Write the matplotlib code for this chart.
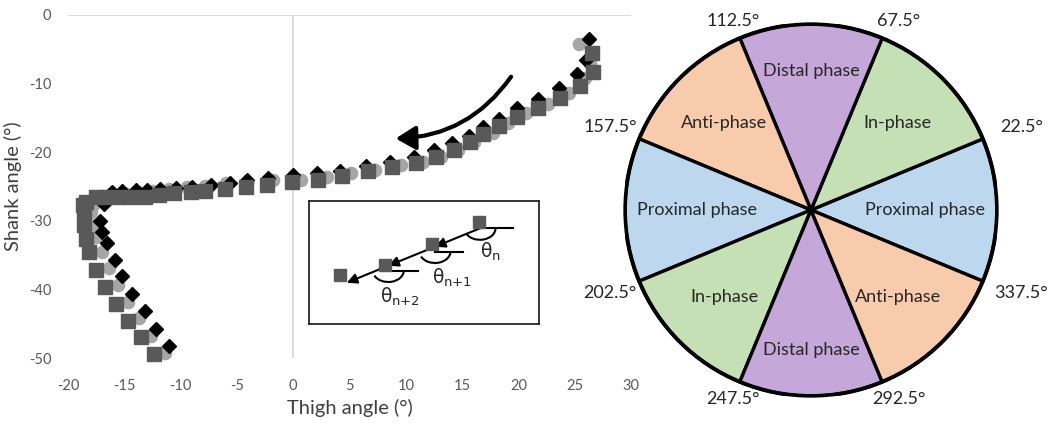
import numpy as np
import matplotlib
matplotlib.use("Agg")
import matplotlib.pyplot as plt
from matplotlib.patches import Arc, Circle

plt.rcParams['font.family'] = ['Lato', 'DejaVu Sans']

# ---------------- data ----------------
# series 1: black diamonds
s1_x = [26.3, 26.0, 25.2, 23.6, 21.7, 19.85, 18.25, 16.9, 15.6, 14.1, 12.5, 10.75, 8.6, 6.5, 4.2, 2.1,
        0.0, -2.2, -4.1, -5.6, -7.3, -9.0, -10.4, -11.8, -13.0, -14.0, -15.2, -16.1, -16.8, -17.2,
        -17.0, -16.5, -15.85, -15.2, -14.3, -13.2, -12.2, -11.0]
s1_y = [-3.5, -6.5, -8.6, -10.7, -12.2, -13.6, -15.1, -16.3, -17.6, -18.7, -19.7, -20.7, -21.5, -22.0,
        -22.7, -23.1, -23.3, -23.7, -24.05, -24.5, -24.8, -25.0, -25.2, -25.4, -25.5, -25.5, -25.6,
        -25.8, -27.5, -30.0, -31.6, -33.3, -35.7, -38.0, -40.7, -43.2, -45.8, -48.3]
# series 2: light grey circles
s2_x = [25.4, 26.4, 25.9, 24.5, 22.6, 20.7, 19.1, 17.7, 16.1, 14.6, 13.1, 11.5, 9.6, 7.3, 5.1, 3.0,
        0.7, -1.8, -4.1, -6.0, -7.8, -9.4, -11.0, -12.5, -13.8, -15.0, -16.2, -17.2, -17.8, -18.0,
        -17.5, -17.5, -17.0, -16.4, -15.6, -14.7, -13.7, -12.6, -11.4]
s2_y = [-4.2, -7.0, -9.2, -11.3, -13.0, -14.3, -15.8, -17.2, -18.5, -19.7, -20.7, -21.4, -21.9, -22.6,
        -23.1, -23.6, -24.0, -24.1, -24.5, -24.5, -24.9, -25.0, -25.3, -25.6, -25.8, -26.0, -26.1,
        -26.5, -27.7, -28.7, -30.6, -32.4, -34.5, -36.9, -39.4, -41.8, -44.2, -46.8, -49.3]
# series 3: dark grey squares
s3_x = [26.55, 26.6, 25.5, 23.7, 21.7, 19.85, 18.25, 16.9, 15.7, 14.3, 12.7, 10.9, 8.8, 6.6, 4.3, 2.16,
        -0.1, -2.3, -4.2, -6.1, -7.8, -9.1, -10.6, -11.9, -13.2, -14.4, -15.6, -16.7, -17.5, -18.4,
        -18.7, -18.6, -18.6, -18.4, -18.1, -17.5, -16.7, -15.7, -14.7, -13.5, -12.4]
s3_y = [-5.5, -8.3, -10.3, -12.1, -13.6, -14.8, -16.2, -17.3, -18.5, -19.7, -20.7, -21.6, -22.1, -22.8,
        -23.5, -24.0, -24.3, -24.8, -25.0, -25.3, -25.6, -25.75, -26.0, -26.3, -26.5, -26.5, -26.5,
        -26.5, -26.5, -27.2, -27.7, -28.7, -30.6, -32.6, -34.6, -37.1, -39.6, -42.1, -44.6, -47.0, -49.4]

x_ticks = [-20, -15, -10, -5, 0, 5, 10, 15, 20, 25, 30]
y_ticks = [0, -10, -20, -30, -40, -50]

# inset schematic (inset pixel units)
inset_sq_x = [170, 122.7, 76, 31]
inset_sq_y = [102.3, 80, 59, 49]
inset_labels = [r'$\mathrm{θ}_{\mathrm{n}}$', r'$\mathrm{θ}_{\mathrm{n{+}1}}$', r'$\mathrm{θ}_{\mathrm{n{+}2}}$']

# phase wheel
phase_labels = ['Proximal phase', 'In-phase', 'Distal phase', 'Anti-phase',
                'Proximal phase', 'In-phase', 'Distal phase', 'Anti-phase']
phase_colors = ['#BDD7EE', '#C5E0B4', '#C5A7D9', '#F8CBAD',
                '#BDD7EE', '#C5E0B4', '#C5A7D9', '#F8CBAD']
boundary_angles = [22.5, 67.5, 112.5, 157.5, 202.5, 247.5, 292.5, 337.5]

# ---------------- figure ----------------
W, H = 1050, 426
fig = plt.figure(figsize=(W / 100, H / 100), dpi=100)

def px_axes(x0, y0, x1, y1):
    return fig.add_axes([x0 / W, 1 - y1 / H, (x1 - x0) / W, (y1 - y0) / H])

ax = px_axes(68, 15, 631, 358)
ax.set_xlim(-20, 30)
ax.set_ylim(-50, 0)
for sp in ax.spines.values():
    sp.set_visible(False)
ax.axhline(0, color='#D9D9D9', lw=1.3, zorder=1)
ax.axvline(0, color='#D9D9D9', lw=1.3, zorder=1)
ax.set_xticks(x_ticks)
ax.set_yticks(y_ticks)
ax.set_xticklabels([str(v) for v in x_ticks])
ax.set_yticklabels([str(v) for v in y_ticks])
ax.tick_params(length=0, labelsize=10.5, labelcolor='#595959')
ax.tick_params(axis='x', pad=15)
ax.tick_params(axis='y', pad=12)

ax.plot(s2_x, s2_y, ls='none', marker='o', ms=8.8, mfc='#A6A6A6', mec='#A6A6A6', zorder=3, clip_on=False)
ax.plot(s1_x, s1_y, ls='none', marker='D', ms=6.8, mfc='#000000', mec='#000000', zorder=4, clip_on=False)
ax.plot(s3_x, s3_y, ls='none', marker='s', ms=9.4, mfc='#595959', mec='#595959', zorder=5, clip_on=False)

ax.set_xlabel('Thigh angle (°)', fontsize=14.5, color='#404040')
ax.set_ylabel('Shank angle (°)', fontsize=14.5, color='#404040')
ax.xaxis.set_label_coords(0.5, -0.12)
ax.yaxis.set_label_coords(-0.082, 0.5)

# curved direction arrow
ax.annotate('', xy=(9.1, -18.0), xytext=(19.35, -9.0),
            arrowprops=dict(arrowstyle='-|>,head_length=0.6,head_width=0.36', mutation_scale=20,
                            connectionstyle='arc3,rad=-0.25', lw=3, color='black',
                            shrinkA=0, shrinkB=0), zorder=6)

# ---------------- inset ----------------
ai = px_axes(309, 201, 539, 324)
ai.set_xlim(0, 230)
ai.set_ylim(0, 123)
ai.set_xticks([])
ai.set_yticks([])
for sp in ai.spines.values():
    sp.set_color('#262626')
    sp.set_linewidth(1.3)

nodes_x = [171, 126, 79.3, 37.7]
nodes_y = [95.7, 77.3, 58.3, 41.3]
horiz_y = [95.7, 72.5, 53.5]
horiz_x1 = [204, 154, 109]
for i in range(3):
    head = '-|>,head_length=0.5,head_width=0.25'
    ai.annotate('', xy=(nodes_x[i + 1], nodes_y[i + 1]), xytext=(nodes_x[i], nodes_y[i]),
                arrowprops=dict(arrowstyle=head, mutation_scale=12, lw=1.5, color='black',
                                shrinkA=0, shrinkB=0))
    ai.plot([nodes_x[i], horiz_x1[i]], [horiz_y[i], horiz_y[i]], color='black', lw=1.5)
    ai.add_patch(Arc((nodes_x[i], horiz_y[i]), 31, 23, theta1=200, theta2=360, color='black', lw=1.5))
ai.plot(inset_sq_x, inset_sq_y, ls='none', marker='s', ms=9, mfc='#595959', mec='#595959', zorder=5)
lab_pos = [(181, 72), (143, 46), (91, 27)]
for (lx, ly), t in zip(lab_pos, inset_labels):
    ai.text(lx, ly, t, fontsize=13.5, ha='center', va='center', color='#262626')

# ---------------- phase wheel ----------------
cx, cy, R = 811, 210, 186
ap = px_axes(cx - R, cy - R, cx + R, cy + R)
wedges, _ = ap.pie([1] * 8, colors=phase_colors, startangle=-22.5, counterclock=True, radius=1,
                   wedgeprops=dict(edgecolor='black', linewidth=2.4))
ap.set_xlim(-1, 1)
ap.set_ylim(-1, 1)
ap.set_aspect('equal')
ap.axis('off')
ap.add_patch(Circle((0, 0), 1, fill=False, ec='black', lw=2.8, zorder=5))
for w, lab in zip(wedges, phase_labels):
    mid = np.deg2rad((w.theta1 + w.theta2) / 2)
    if 'Distal' in lab:
        r = 0.75
    elif 'Proximal' in lab:
        r = 0.615
    else:
        r = 0.66
    ap.text(r * np.cos(mid), r * np.sin(mid), lab, fontsize=13, ha='center', va='center',
            color='#262626', zorder=6)
for a in boundary_angles:
    t = np.deg2rad(a)
    r = 1.17 if abs(np.sin(t)) < 0.5 else 1.1
    dx = 0.05 if np.cos(t) > 0 else 0.0
    ap.text(r * np.cos(t) + dx, r * np.sin(t), f'{a}°', fontsize=13, ha='center', va='center',
            color='#262626', clip_on=False)

fig.savefig('out.png', dpi=100)
